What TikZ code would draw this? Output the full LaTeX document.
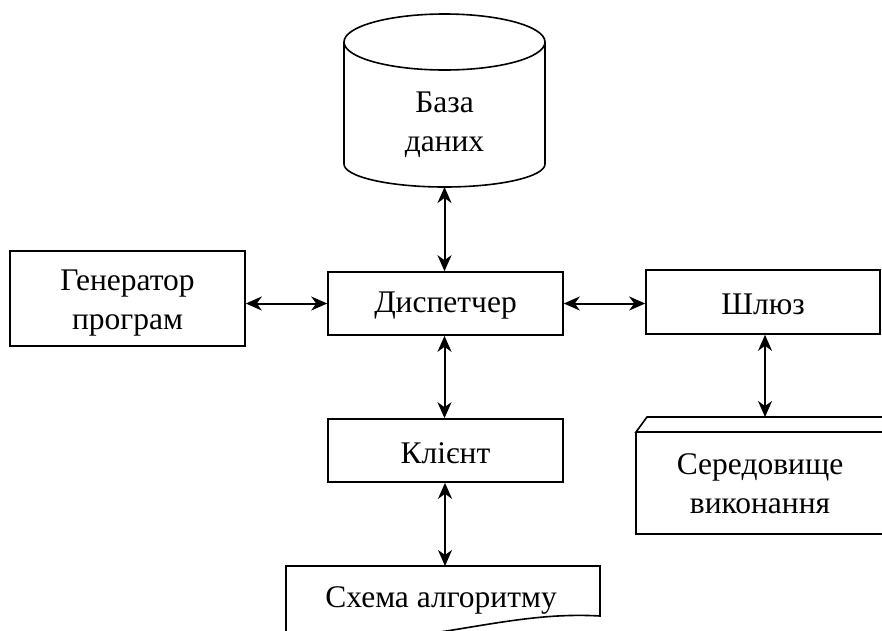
\documentclass[tikz,border=0pt]{standalone}
\usepackage{fontspec}
\setmainfont{Liberation Serif}
\usetikzlibrary{arrows.meta}
\begin{document}
\begin{tikzpicture}[x=1pt,y=-1pt,line width=1.6pt,
  every node/.style={font=\fontsize{31.5}{39}\selectfont, align=center},
  box/.style={draw, rectangle, inner sep=0pt, minimum width=235pt, minimum height=63pt},
  >={Stealth[length=16pt,width=14pt,inset=5pt]},
  link/.style={<->, line width=2pt}]
\useasboundingbox (0,0) rectangle (882,630);
% database cylinder
\draw (344,42) -- (344,164) arc[start angle=180,end angle=360,x radius=100.5pt,y radius=23pt] -- (545,42);
\draw (444.5,42) ellipse [x radius=100.5pt, y radius=28pt];
\node (db) at (444.5,125) {База\\даних};
\coordinate (dbbot) at (444.5,187);
% boxes
\node[box, minimum height=95pt] (gen) at (127.5,298.5) {};
\node (genlbl) at (127.5,303) {Генератор\\програм};
\node[box] (disp) at (445.5,303.5) {};
\node (displbl) at (445.5,306) {Диспетчер};
\node[box, minimum width=234pt, minimum height=64pt] (gw) at (763,302) {};
\node (gwlbl) at (763,304.5) {Шлюз};
\node[box] (cl) at (445.5,450.5) {};
\node (cllbl) at (445.5,453) {Клієнт};
% execution environment (3D box, cut at right) and algorithm document
\begin{scope}
\clip (0,0) rectangle (882,630);
\draw (900,417) -- (647,417) -- (636,432) -- (900,432);
\draw (636,432) -- (636,534) -- (900,534);
\draw (286,640) -- (286,566) -- (600,566) -- (600,616)
  .. controls (500,610) and (420,650) .. (286,640);
\end{scope}
\node (env) at (760,484) {Середовище\\виконання};
\coordinate (envtop) at (765,417);
\node (alg) at (441,600) {Схема алгоритму};
\coordinate (algtop) at (445,566);
% connectors
\draw[link] (dbbot) -- (disp.north -| dbbot);
\draw[link] (gen.east |- disp.west) -- (disp.west);
\draw[link] (disp.east) -- (disp.east -| gw.west);
\draw[link] (disp.south -| dbbot) -- (cl.north -| dbbot);
\draw[link] (gw.south -| envtop) -- (envtop);
\draw[link] (cl.south -| algtop) -- (algtop);
\end{tikzpicture}
\end{document}
